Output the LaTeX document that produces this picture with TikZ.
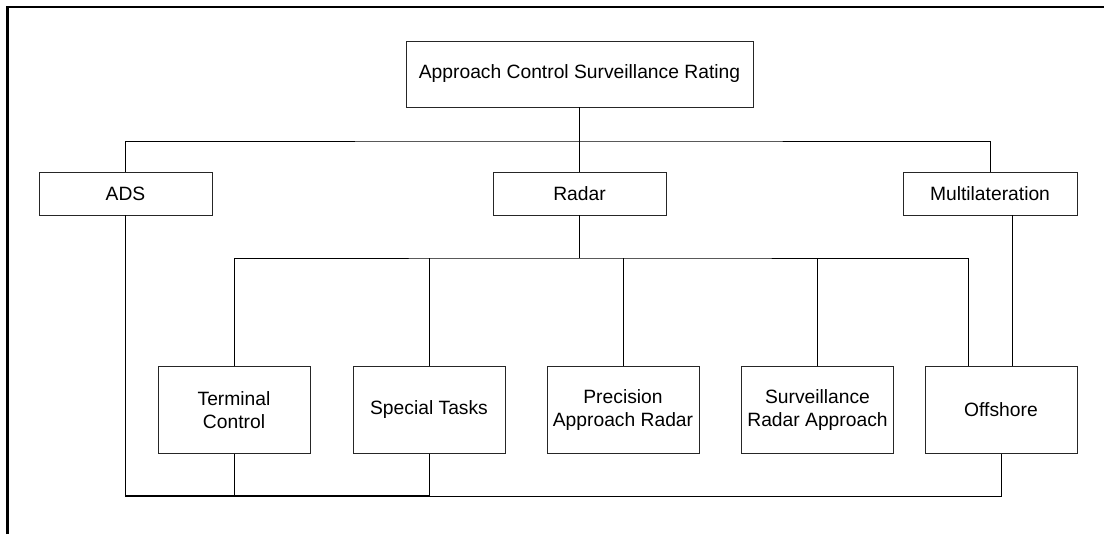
\documentclass[tikz,border=0pt]{standalone}
\usepackage{fontspec}
\setmainfont{Liberation Sans}
\usepackage{tikz}

\begin{document}
\begin{tikzpicture}[x=0.025cm,y=-0.025cm]
		\tikzstyle{every node}+=[inner sep=0pt]
		\tikzstyle{box}=[draw=black!85, line width=0.7pt, align=center, font=\fontsize{13.7}{16.6}\selectfont]
		\tikzstyle{link}=[black, line width=0.7pt]
		\tikzstyle{heavy}=[black, line width=1.3pt]
		\useasboundingbox (0,0) rectangle (1104,534);
		% frame
		\draw [black, line width=1.5pt] (7.5,534) -- (7.5,7) -- (1104,7);
		% boxes
		\node [box, minimum width=347*0.025cm, minimum height=66*0.025cm] (rating) at (579.5,74) {Approach Control Surveillance Rating};
		\node [box, minimum width=173*0.025cm, minimum height=43*0.025cm] (ads) at (125.5,193.5) {ADS};
		\node [box, minimum width=173*0.025cm, minimum height=43*0.025cm] (radar) at (579.5,193.5) {Radar};
		\node [box, minimum width=174*0.025cm, minimum height=43*0.025cm] (multi) at (990,193.5) {Multilateration};
		\node [box, minimum width=152*0.025cm, minimum height=87*0.025cm] (terminal) at (234,410) {Terminal\\Control};
		\node [box, minimum width=152*0.025cm, minimum height=87*0.025cm] (special) at (429,410) {Special Tasks};
		\node [box, minimum width=152*0.025cm, minimum height=87*0.025cm] (precision) at (623,410) {Precision\\Approach Radar};
		\node [box, minimum width=152*0.025cm, minimum height=87*0.025cm] (surveil) at (817.5,410) {Surveillance\\Radar Approach};
		\node [box, minimum width=152*0.025cm, minimum height=87*0.025cm] (offshore) at (1001,410) {Offshore};
		\coordinate (topbus) at (579.5,141);
		\coordinate (radarbus) at (579.5,258);
		\coordinate (bottombus) at (579.5,496);
		\coordinate (tapoff) at (968,258);
		\coordinate (tapmulti) at (1012,300);
		% first level
		\draw [link] (rating.south) -- (radar.north);
		\draw [link] (ads.north) |- (topbus) -| (multi.north);
		% radar branches
		\draw [heavy] (radar.south) -- (radarbus);
		\draw [link] (terminal.north) |- (radarbus) -| (tapoff);
		\draw [link] (special.north) -- (special.north |- radarbus);
		\draw [link] (precision.north) -- (precision.north |- radarbus);
		\draw [link] (surveil.north) -- (surveil.north |- radarbus);
		\draw [link] (tapoff) -- (tapoff |- offshore.north);
		\draw [link] (tapmulti |- multi.south) -- (tapmulti |- offshore.north);
		% bottom return
		\draw [heavy] (ads.south) |- (special.south |- bottombus);
		\draw [link] (special.south |- bottombus) -| (offshore.south);
		\draw [link] (terminal.south) -- (terminal.south |- bottombus);
		\draw [link] (special.south) -- (special.south |- bottombus);
\end{tikzpicture}
\end{document}
